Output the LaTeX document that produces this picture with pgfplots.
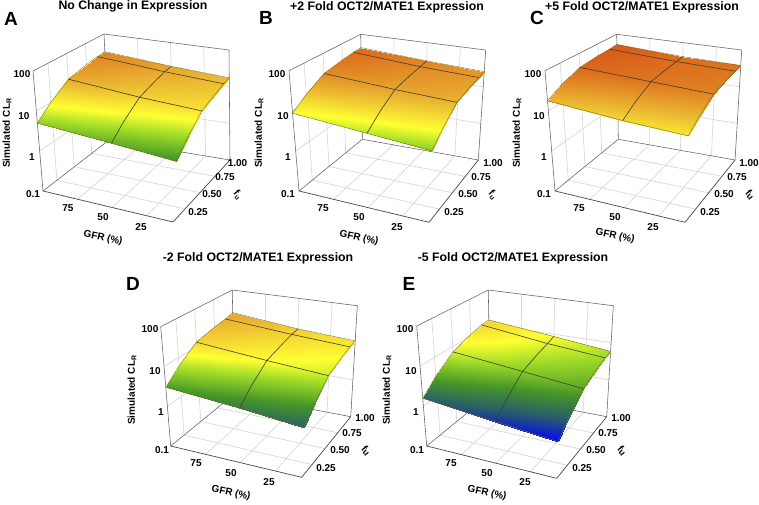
\documentclass[border=0pt]{standalone}
\usepackage{pgfplots}
\usepackage{pgfplotstable}
\usepackage{fontspec}
\setmainfont{Liberation Sans}
\pgfplotsset{compat=1.18}
\pgfplotsset{
  /pgfplots/colormap={cl}{
    rgb255(0)=(0,0,255); rgb255(30)=(40,90,110); rgb255(60)=(70,150,40);
    rgb255(90)=(160,220,40); rgb255(110)=(255,255,50); rgb255(140)=(235,185,50);
    rgb255(170)=(222,120,32); rgb255(190)=(215,80,22); rgb255(210)=(212,65,20)},
  panel/.style={at={(0,0)},anchor=south west,scale only axis,width=759pt,height=504pt,
    xmin=0,xmax=759,ymin=0,ymax=504,y dir=reverse,hide axis,clip=false,
    colormap name=cl,point meta min=-0.15,point meta max=1.95},
  frameA/.style={color=black!62,line width=0.55pt},
  frameB/.style={color=black!72,line width=0.7pt},
  gridl/.style={color=black!17,line width=0.6pt},
  surfl/.style={color=black!72!olive,line width=0.6pt,no markers,forget plot},
  edgel/.style={color=olive!80!black,line width=0.4pt,no markers,forget plot}
}
\def\U{((100-\thisrow{g})/94)}
\def\V{((\thisrow{f}-0.05)/0.95)}
\def\W{((log10(\thisrow{c})+1)/3)}
\newcommand\TRI[8]{((1-\W)*((1-\V)*((1-\U)*#1+\U*#2)+\V*((1-\U)*#3+\U*#4))+\W*((1-\V)*((1-\U)*#5+\U*#6)+\V*((1-\U)*#7+\U*#8)))}
\newcommand\seg[7]{\addplot[#1,no markers,forget plot] table[row sep=\\,x expr=\xx,y expr=\yy]{g f c\\#2 #3 #4\\#5 #6 #7\\};}
% a line across GFR at one fu: style, fu, CL at GFR 100, 50, 6
\newcommand\across[5]{\addplot[#1] table[row sep=\\,x expr=\xx,y expr=\yy]{g f c\\100 #2 #3\\50 #2 #4\\6 #2 #5\\};}
\newcommand\cube{%
  \seg{gridl}{100}{0.05}{1}{100}{1}{1}\seg{gridl}{100}{0.05}{10}{100}{1}{10}%
  \seg{gridl}{100}{0.25}{0.1}{100}{0.25}{100}\seg{gridl}{100}{0.5}{0.1}{100}{0.5}{100}\seg{gridl}{100}{0.75}{0.1}{100}{0.75}{100}%
  \seg{gridl}{100}{1}{1}{6}{1}{1}\seg{gridl}{100}{1}{10}{6}{1}{10}%
  \seg{gridl}{75}{1}{0.1}{75}{1}{100}\seg{gridl}{50}{1}{0.1}{50}{1}{100}\seg{gridl}{25}{1}{0.1}{25}{1}{100}%
  \seg{gridl}{75}{0.05}{0.1}{75}{1}{0.1}\seg{gridl}{50}{0.05}{0.1}{50}{1}{0.1}\seg{gridl}{25}{0.05}{0.1}{25}{1}{0.1}%
  \seg{gridl}{100}{0.25}{0.1}{6}{0.25}{0.1}\seg{gridl}{100}{0.5}{0.1}{6}{0.5}{0.1}\seg{gridl}{100}{0.75}{0.1}{6}{0.75}{0.1}%
  \seg{frameA}{100}{0.05}{100}{100}{1}{100}\seg{frameA}{100}{1}{100}{6}{1}{100}%
  \seg{frameA}{100}{0.05}{0.1}{100}{0.05}{100}\seg{frameA}{100}{1}{0.1}{100}{1}{100}\seg{frameA}{6}{1}{0.1}{6}{1}{100}%
  \seg{frameA}{100}{0.05}{0.1}{100}{1}{0.1}\seg{frameA}{100}{1}{0.1}{6}{1}{0.1}%
  \seg{frameB}{100}{0.05}{0.1}{6}{0.05}{0.1}\seg{frameB}{6}{0.05}{0.1}{6}{1}{0.1}%
}
\newcommand\surface[1]{%
  \addplot[surf,shader=interp,mesh/rows=3,mesh/cols=6,forget plot,point meta={log10(\thisrow{c})}]
     table[x expr=\xx,y expr=\yy]{#1};
  \addplot[surfl,restrict expr to domain={\thisrow{g}}{49:51}] table[x expr=\xx,y expr=\yy]{#1};
  \addplot[edgel,restrict expr to domain={\thisrow{g}}{99:101}] table[x expr=\xx,y expr=\yy]{#1};
  \addplot[edgel,restrict expr to domain={\thisrow{g}}{5:7}] table[x expr=\xx,y expr=\yy]{#1};
}
\newcommand\T[4]{\node[font=\bfseries\fontsize{10}{12}\selectfont,rotate=#3,inner sep=0pt] at (axis cs:#1,#2) {#4};}
\newcommand\Ttl[3]{\node[font=\bfseries\fontsize{12.3}{14}\selectfont,inner sep=0pt] at (axis cs:#1,#2) {#3};}
\newcommand\Let[3]{\node[font=\bfseries\fontsize{19}{20}\selectfont,inner sep=0pt] at (axis cs:#1,#2) {#3};}
\newcommand\FU{f\textsubscript{u}}
\newcommand\FUB{f\raisebox{-1pt}{\fontsize{9}{10}\selectfont u}}
\newcommand\CLR{Simulated CL\textsubscript{R}}

\pgfplotstableread{
g f c
100 0.05 5.0
100 0.25 10.0
100 0.5 20.9
100 0.75 26.9
100 0.9 30.2
100 1 31.6
50 0.05 3.6
50 0.25 7.1
50 0.5 14.1
50 0.75 18.4
50 0.9 20.9
50 1 21.9
6 0.05 2.7
6 0.25 5.5
6 0.5 11.5
6 0.75 14.8
6 0.9 16.6
6 1 17.4
}\dataA
\pgfplotstableread{
g f c
100 0.05 8.7
100 0.25 15.8
100 0.5 29.5
100 0.75 36.3
100 0.9 39.8
100 1 41.7
50 0.05 6.3
50 0.25 11.7
50 0.5 22.4
50 0.75 26.9
50 0.9 28.8
50 1 30.9
6 0.05 4.9
6 0.25 9.5
6 0.5 19.1
6 0.75 22.9
6 0.9 24.5
6 1 25.7
}\dataB
\pgfplotstableread{
g f c
100 0.05 17.8
100 0.25 28.2
100 0.5 42.7
100 0.75 47.9
100 0.9 49.0
100 1 51.3
50 0.05 12.9
50 0.25 21.4
50 0.5 35.5
50 0.75 38.9
50 0.9 39.8
50 1 40.7
6 0.05 11.0
6 0.25 18.6
6 0.5 30.9
6 0.75 34.7
6 0.9 36.3
6 1 38.0
}\dataC
\pgfplotstableread{
g f c
100 0.05 3.0
100 0.25 6.2
100 0.5 13.2
100 0.75 17.2
100 0.9 19.5
100 1 22.4
50 0.05 2.1
50 0.25 4.3
50 0.5 8.9
50 0.75 11.7
50 0.9 13.5
50 1 14.1
6 0.05 1.5
6 0.25 3.1
6 0.5 6.8
6 0.75 9.1
6 0.9 10.7
6 1 11.2
}\dataD
\pgfplotstableread{
g f c
100 0.05 1.55
100 0.25 3.3
100 0.5 7.2
100 0.75 10.7
100 0.9 13.2
100 1 13.8
50 0.05 1.02
50 0.25 2.1
50 0.5 4.7
50 0.75 6.5
50 0.9 7.6
50 1 8.7
6 0.05 0.74
6 0.25 1.53
6 0.5 3.3
6 0.75 4.6
6 0.9 5.5
6 1 5.8
}\dataE

\begin{document}
\begin{tikzpicture}[x=1pt,y=1pt]
\useasboundingbox (0,0) rectangle (759pt,504pt);
\fill[white] (0,0) rectangle (759pt,504pt);

% Panel A
\def\xx{\TRI{43}{173}{109}{230}{33}{179}{104}{229}}
\def\yy{\TRI{191}{222}{140}{160}{71}{95}{34}{50}}
\begin{axis}[panel]
\cube
\surface{\dataA}
\across{surfl}{0.5}{20.9}{14.1}{11.5}\across{surfl}{0.9}{30.2}{20.9}{16.6}
\across{edgel}{0.05}{5.0}{3.6}{2.7}\across{edgel}{1}{31.6}{21.9}{17.4}
\Ttl{133}{6}{No Change in Expression}
\Let{11}{19}{A}
\T{22}{74}{0}{100}\T{24}{116}{0}{10}\T{32}{157}{0}{1}\T{33}{194}{0}{0.1}
\T{68}{208}{0}{75}\T{103}{217}{0}{50}\T{141}{227}{0}{25}
\T{237.5}{163}{0}{1.00}\T{225}{177}{0}{0.75}\T{212}{194}{0}{0.50}\T{198}{212}{0}{0.25}
\T{103}{238}{-12}{GFR (\%)}\T{238}{195}{-50}{\FU}\T{7}{133}{90}{\CLR}
\end{axis}

% Panel B
\def\xx{\TRI{299}{429}{362.3}{478.3}{289}{434}{360.7}{485.7}}
\def\yy{\TRI{191}{222.3}{139.3}{160}{70.7}{95.3}{34.3}{50}}
\begin{axis}[panel]
\cube
\surface{\dataB}
\across{surfl}{0.5}{29.5}{22.4}{19.1}\across{surfl}{0.9}{39.8}{28.8}{24.5}
\across{edgel}{0.05}{8.7}{6.3}{4.9}\across{edgel}{1}{41.7}{30.9}{25.7}
\Ttl{387}{7}{+2 Fold OCT2/MATE1 Expression}
\Let{266}{18}{B}
\T{277}{74}{0}{100}\T{283}{116}{0}{10}\T{288}{157}{0}{1}\T{288}{194}{0}{0.1}
\T{323}{208}{0}{75}\T{359}{217}{0}{50}\T{397}{227}{0}{25}
\T{493}{163}{0}{1.00}\T{481}{177}{0}{0.75}\T{468}{194}{0}{0.50}\T{454}{212}{0}{0.25}
\T{359}{238}{-12}{GFR (\%)}\T{493}{195}{-50}{\FU}\T{259}{133}{90}{\CLR}
\end{axis}

% Panel C
\def\xx{\TRI{555}{685}{618.3}{735}{545}{690}{616.7}{741.7}}
\def\yy{\TRI{191}{222.3}{139.3}{160}{70.7}{95.3}{34.3}{50}}
\begin{axis}[panel]
\cube
\surface{\dataC}
\across{surfl}{0.5}{42.7}{35.5}{30.9}\across{surfl}{0.9}{49.0}{39.8}{36.3}
\across{edgel}{0.05}{17.8}{12.9}{11.0}\across{edgel}{1}{51.3}{40.7}{38.0}
\Ttl{642}{7}{+5 Fold OCT2/MATE1 Expression}
\Let{537}{18}{C}
\T{533}{74}{0}{100}\T{539}{116}{0}{10}\T{544}{157}{0}{1}\T{544}{194}{0}{0.1}
\T{579}{208}{0}{75}\T{615}{217}{0}{50}\T{653}{227}{0}{25}
\T{749}{163}{0}{1.00}\T{737}{177}{0}{0.75}\T{724}{194}{0}{0.50}\T{710}{212}{0}{0.25}
\T{615}{236}{-12}{GFR (\%)}\T{750}{195}{-50}{\FUB}\T{517}{133}{90}{\CLR}
\end{axis}

% Panel D
\def\xx{\TRI{170.7}{301.7}{234}{350.7}{160.7}{306.7}{232.3}{357.3}}
\def\yy{\TRI{446}{477.3}{394.3}{416.7}{326.7}{350.3}{290}{305.7}}
\begin{axis}[panel]
\cube
\surface{\dataD}
\across{surfl}{0.5}{13.2}{8.9}{6.8}\across{surfl}{0.9}{19.5}{13.5}{10.7}
\across{edgel}{0.05}{3.0}{2.1}{1.5}\across{edgel}{1}{22.4}{14.1}{11.2}
\Ttl{258}{258}{-2 Fold OCT2/MATE1 Expression}
\Let{133}{284}{D}
\T{150}{329}{0}{100}\T{155}{371}{0}{10}\T{161}{412}{0}{1}\T{162}{450}{0}{0.1}
\T{196}{463}{0}{75}\T{231}{473}{0}{50}\T{269}{482}{0}{25}
\T{365}{418}{0}{1.00}\T{352}{433}{0}{0.75}\T{340}{450}{0}{0.50}\T{326}{468}{0}{0.25}
\T{231}{493}{-12}{GFR (\%)}\T{366}{451}{-50}{\FUB}\T{132}{390}{90}{\CLR}
\end{axis}

% Panel E
\def\xx{\TRI{426.7}{556.7}{490}{606.7}{416.7}{561.7}{488.3}{613.3}}
\def\yy{\TRI{446}{478.3}{394.3}{416.7}{326}{351.3}{290}{305.7}}
\begin{axis}[panel]
\cube
\surface{\dataE}
\across{surfl}{0.5}{7.2}{4.7}{3.3}\across{surfl}{0.9}{13.2}{7.6}{5.5}
\across{edgel}{0.05}{1.55}{1.02}{0.74}\across{edgel}{1}{13.8}{8.7}{5.8}
\Ttl{513}{258}{-5 Fold OCT2/MATE1 Expression}
\Let{409}{284}{E}
\T{405}{329}{0}{100}\T{411}{371}{0}{10}\T{416}{412}{0}{1}\T{417}{450}{0}{0.1}
\T{451}{463}{0}{75}\T{487}{473}{0}{50}\T{525}{482}{0}{25}
\T{621}{418}{0}{1.00}\T{608}{433}{0}{0.75}\T{596}{450}{0}{0.50}\T{582}{468}{0}{0.25}
\T{487}{493}{-12}{GFR (\%)}\T{622}{451}{-50}{\FUB}\T{387}{390}{90}{\CLR}
\end{axis}
\end{tikzpicture}
\end{document}
